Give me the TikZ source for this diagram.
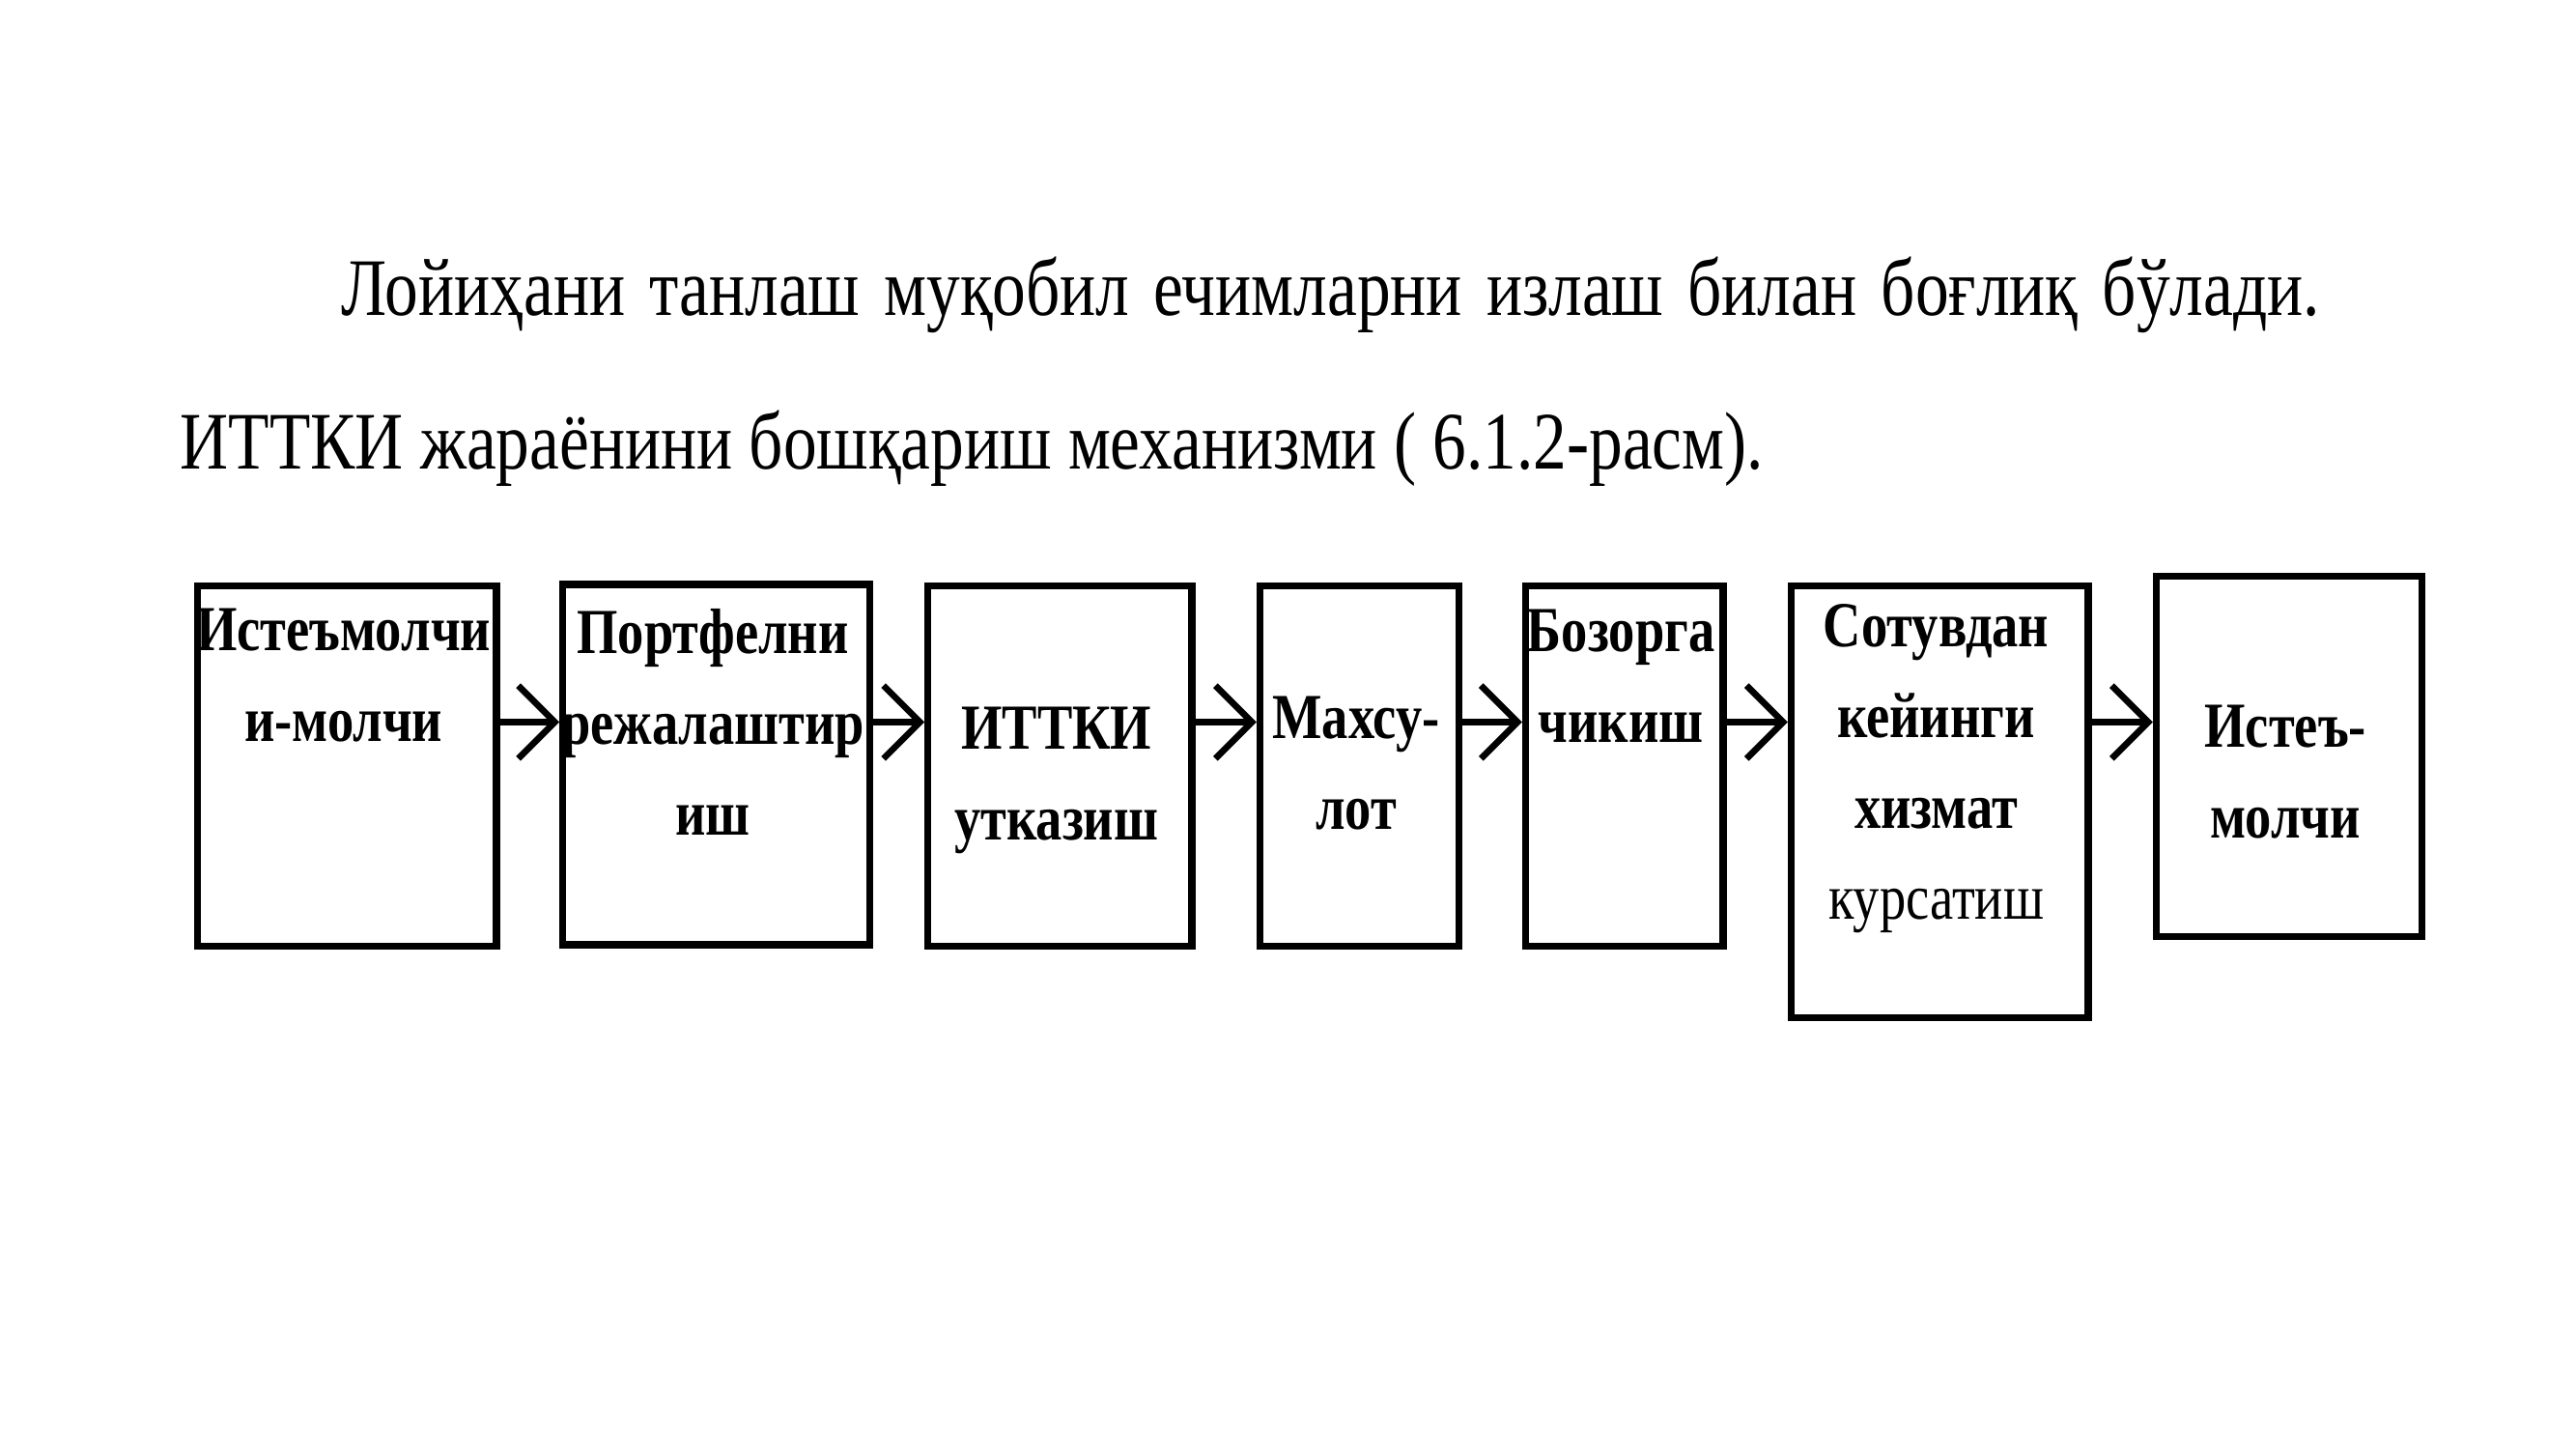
\documentclass[tikz,border=0pt]{standalone}
\usepackage{fontspec}
\setmainfont[FakeStretch=0.82]{Liberation Serif}
\usetikzlibrary{arrows.meta, positioning}

\begin{document}
\begin{tikzpicture}[
        box/.style={rectangle, draw=black, line width=1.2pt, inner sep=0pt, anchor=north west},
        boxtext/.style={align=center, font=\bfseries\fontsize{11}{15.6}\selectfont},
        relation/.style={-{Straight Barb[length=2.2mm]}, line width=1.1pt}
        ]
        \useasboundingbox (0,0) rectangle (15.52,-8.73);
        % Heading text
        \node[anchor=west, inner sep=0pt, font=\fontsize{14}{16}\selectfont] (line1) at (2.05,-1.78)
            {\makebox[11.92cm][s]{Лойиҳани танлаш муқобил ечимларни излаш билан боғлиқ бўлади.}};
        \node[anchor=west, inner sep=0pt, font=\fontsize{14}{16}\selectfont] (line2) at (1.08,-2.70)
            {ИТТКИ жараёнини бошқариш механизми ( 6.1.2-расм).};

        % Boxes
        \node[box, minimum width=1.80cm, minimum height=2.17cm] (cons) at (1.17,-3.51) {};
        \node[box, minimum width=1.85cm, minimum height=2.17cm] (plan) at (3.37,-3.50) {};
        \node[box, minimum width=1.59cm, minimum height=2.17cm] (itt) at (5.57,-3.51) {};
        \node[box, minimum width=1.20cm, minimum height=2.17cm] (prod) at (7.57,-3.51) {};
        \node[box, minimum width=1.19cm, minimum height=2.17cm] (market) at (9.17,-3.51) {};
        \node[box, minimum width=1.79cm, minimum height=2.60cm] (service) at (10.77,-3.51) {};
        \node[box, minimum width=1.60cm, minimum height=2.17cm] (user) at (12.97,-3.45) {};

        % Box texts
        \node[boxtext] (consT) at (2.07,-4.07) {Истеъмолчи\\и-молчи};
        \node[boxtext] (planT) at (4.295,-4.35) {Портфелни\\режалаштир\\иш};
        \node[boxtext] (ittT) at (6.365,-4.70) {ИТТКИ\\утказиш};
        \node[boxtext] (prodT) at (8.17,-4.60) {Махсу-\\лот};
        \node[boxtext] (marketT) at (9.765,-4.07) {Бозорга\\чикиш};
        \node[boxtext] (serviceT) at (11.665,-4.63) {Сотувдан\\кейинги\\хизмат\\\mdseries курсатиш};
        \node[boxtext] (userT) at (13.77,-4.65) {Истеъ-\\молчи};

        % Relations
        \draw[relation] (cons.east |- 0,-4.35) -- (plan.west |- 0,-4.35);
        \draw[relation] (plan.east |- 0,-4.35) -- (itt.west |- 0,-4.35);
        \draw[relation] (itt.east |- 0,-4.35) -- (prod.west |- 0,-4.35);
        \draw[relation] (prod.east |- 0,-4.35) -- (market.west |- 0,-4.35);
        \draw[relation] (market.east |- 0,-4.35) -- (service.west |- 0,-4.35);
        \draw[relation] (service.east |- 0,-4.35) -- (user.west |- 0,-4.35);
\end{tikzpicture}
\end{document}
